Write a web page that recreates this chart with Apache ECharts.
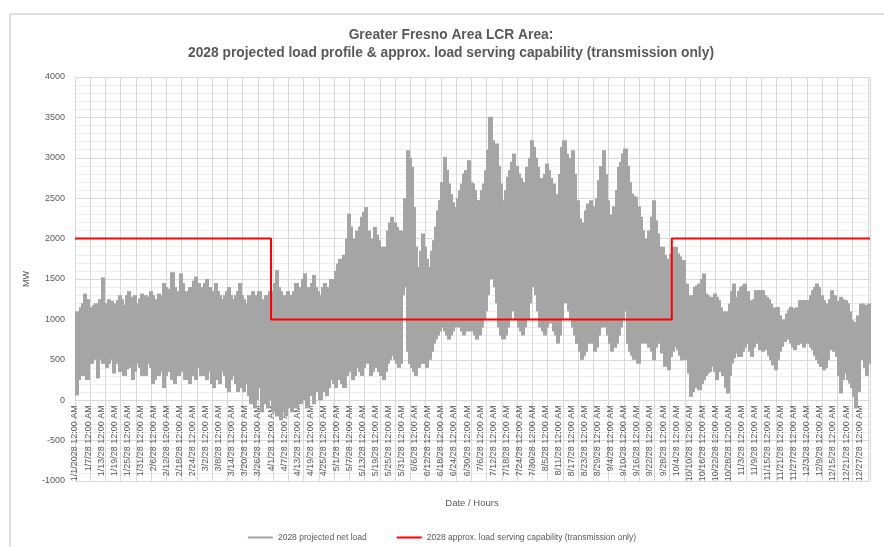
<!DOCTYPE html>
<html><head><meta charset="utf-8">
<script src="https://cdn.jsdelivr.net/npm/echarts@6/dist/echarts.min.js"></script>
<style>html,body{margin:0;padding:0;background:#fff}#c{width:884px;height:547px}</style>
</head><body><div id="c"></div>
<script>
// Tick labels (every 144 hours)
const tickDates = ['1/1/2028','1/7/28','1/13/28','1/19/28','1/25/28','1/31/28','2/6/28','2/12/28','2/18/28','2/24/28',
 '3/2/28','3/8/28','3/14/28','3/20/28','3/26/28','4/1/28','4/7/28','4/13/28','4/19/28','4/25/28',
 '5/1/28','5/7/28','5/13/28','5/19/28','5/25/28','5/31/28','6/6/28','6/12/28','6/18/28','6/24/28',
 '6/30/28','7/6/28','7/12/28','7/18/28','7/24/28','7/30/28','8/5/28','8/11/28','8/17/28','8/23/28',
 '8/29/28','9/4/28','9/10/28','9/16/28','9/22/28','9/28/28','10/4/28','10/10/28','10/16/28','10/22/28',
 '10/28/28','11/3/28','11/9/28','11/15/28','11/21/28','11/27/28','12/3/28','12/9/28','12/15/28','12/21/28','12/27/28'];
const tickTime = ' 12:00 AM';
const hoursPerLabel = 144;
const hoursPerGridLine = 168;
const totalHours = 8760;

// Daily peak of projected net load (MW), Jan..Dec
const dailyMax = [
 1100,1080,1150,1200,1320,1250,1150,1100,1180,1200,1150,1250,1520,1200,1180,1250,1230,1150,1200,1240,1300,1250,1180,1300,1350,1220,1280,1300,1200,1260,1320,
 1250,1300,1280,1350,1300,1200,1250,1320,1300,1450,1400,1350,1380,1585,1400,1350,1300,1570,1450,1350,1300,1400,1350,1480,1530,1450,1400,1350,
 1450,1500,1400,1350,1300,1450,1350,1300,1250,1300,1350,1400,1300,1250,1300,1350,1450,1300,1250,1200,1300,1250,1350,1200,1300,1350,1250,1200,1300,1250,1350,
 1350,1450,1610,1400,1350,1300,1250,1350,1300,1300,1350,1450,1400,1350,1500,1570,1400,1350,1450,1550,1400,1350,1300,1400,1450,1350,1400,1500,1450,1600,
 1690,1750,1650,1800,2000,2310,2150,1950,2000,2100,2150,2270,2330,2390,2100,1856,2000,2145,2050,1980,1900,1774,1900,2100,2200,2270,2200,2145,2100,2100,2063,
 2500,3094,3000,2888,2390,1900,1650,1850,2063,1900,1750,1650,1850,1980,2150,2350,2475,2700,3011,2850,2682,2550,2450,2390,2500,2600,2682,2805,2850,2970,
 2700,2682,2600,2475,2475,2600,2682,2846,3100,3507,3218,3150,3177,2900,2682,2475,2600,2764,2850,2950,3053,2900,2805,2750,2700,2682,2888,3000,3218,3135,3000,
 2888,2750,2682,2800,2929,2850,2750,2682,2550,2475,2800,3135,3218,3050,2888,3000,3094,2800,2475,2250,2063,2200,2350,2434,2475,2400,2270,2500,2723,2900,3094,
 2800,2475,2300,2186,2400,2600,2888,2950,3053,3115,2900,2700,2558,2530,2516,2400,2270,2104,2000,1980,2100,2270,2475,2228,2063,1900,1898,1800,1750,1650,
 1815,1898,1898,1815,1780,1733,1733,1444,1300,1196,1300,1403,1420,1444,1500,1568,1320,1300,1279,1279,1320,1280,1238,1150,1100,1031,1100,1196,1350,1444,1279,
 1350,1403,1420,1444,1350,1238,1114,1250,1361,1361,1361,1361,1300,1279,1250,1196,1150,1114,1155,1050,928,1000,1073,1120,1155,1140,1114,1150,1238,1238,
 1238,1238,1238,1300,1361,1400,1444,1400,1300,1238,1200,1155,1250,1361,1300,1196,1230,1279,1250,1238,1200,1100,990,970,949,1050,1196,1196,1150,1180,1196
];
// Daily minimum of projected net load (MW), Jan..Dec
const dailyMin = [
 60,250,400,300,500,250,600,450,500,550,270,500,450,500,400,450,500,330,450,500,350,420,300,380,450,400,250,350,450,400,300,
 350,300,450,400,200,250,400,300,350,150,300,350,400,250,200,350,300,400,350,250,300,200,350,300,250,400,300,350,
 300,250,350,200,150,300,250,200,350,300,150,100,250,300,200,100,250,150,100,200,50,-50,100,-100,0,150,-150,-50,50,-100,0,
 -150,-100,-200,-50,-250,-150,-200,-100,-50,-150,0,-100,50,-50,100,0,-100,50,100,-50,100,150,0,200,100,50,150,250,200,150,
 250,300,200,150,300,400,350,250,300,400,350,300,400,500,450,300,350,450,400,350,300,250,350,450,500,550,500,450,400,450,1300,
 1400,600,450,400,350,300,400,450,500,450,400,500,600,700,750,800,850,900,850,800,750,800,850,900,950,900,850,800,850,900,
 850,900,800,750,800,900,1000,1100,1300,1500,1600,1400,1200,900,800,750,800,900,1000,1100,1200,1000,900,850,800,900,1000,1200,1400,1550,1300,
 1100,900,850,800,900,1000,950,850,800,700,800,1000,1200,1300,1100,1000,900,800,700,600,500,550,600,700,750,700,600,650,800,900,1000,
 900,800,700,600,650,700,800,900,1000,1100,700,600,550,500,550,450,700,743,701,784,650,600,495,650,825,700,578,413,450,371,
 536,600,660,619,550,495,701,500,330,41,100,165,150,124,200,248,300,330,350,413,350,248,350,495,300,150,83,300,454,520,578,
 536,536,600,650,701,600,536,650,784,700,619,600,660,620,550,495,430,371,500,600,660,720,784,750,701,650,619,680,743,700,
 650,743,700,650,619,550,500,450,413,371,400,500,620,660,600,536,300,83,250,330,250,206,150,41,-100,100,536,500,400,300,450
];
// Approx. load serving capability (transmission only)
const capStartDay = [0, 90, 274];
const capValues = [2000, 1000, 2000];

const loadName = '2028 projected net load';
const capName = '2028 approx. load serving capability (transmission only)';

const loadData = dailyMax.map((mx, d) => [d * 24, d * 24 + 24, dailyMin[d], mx]);
const capData = capStartDay.map((d, i) => [d * 24, capValues[i]]);
capData.push([totalHours, capValues[capValues.length - 1]]);

const txt = '#595959';
const font = 'Liberation Sans, Arial, sans-serif';
const grey = '#A5A5A5';
const chart = echarts.init(document.getElementById('c'), null, {renderer: 'canvas'});
chart.setOption({
  animation: false,
  backgroundColor: '#fff',
  textStyle: {fontFamily: font},
  title: {
    text: 'Greater Fresno Area LCR Area:\n2028 projected load profile & approx. load serving capability (transmission only)',
    left: 446, top: 21, textAlign: 'center',
    textStyle: {fontSize: 13.8, fontWeight: 'bold', color: txt, lineHeight: 18, fontFamily: font}
  },
  grid: {left: 75, right: 14, top: 77, bottom: 66, containLabel: false, outerBoundsMode: 'none'},
  legend: {
    bottom: 0, left: 'center', icon: 'rect', itemWidth: 25, itemHeight: 2, itemGap: 30,
    textStyle: {fontSize: 8.5, color: txt, fontFamily: font},
    data: [loadName, capName]
  },
  graphic: [
    {type: 'rect', shape: {x: 10, y: 14, width: 900, height: 600}, style: {fill: 'none', stroke: '#BFBFBF', lineWidth: 1}, silent: true, z: -10},
    {type: 'text', x: 472, y: 498, style: {text: 'Date / Hours', fontSize: 9.5, fill: txt, textAlign: 'center', font: '9.5px ' + font}}
  ],
  xAxis: [
    {
      type: 'value', min: 0, max: totalHours, interval: hoursPerLabel, position: 'bottom', offset: -80.8,
      axisLine: {show: true, onZero: false, lineStyle: {color: '#D9D9D9'}},
      axisTick: {show: false}, splitLine: {show: false},
      axisLabel: {
        rotate: 90, fontSize: 9, color: txt, margin: 5, fontFamily: font, showMaxLabel: true,
        formatter: function (v) {
          const k = Math.round(v / hoursPerLabel);
          if (Math.abs(v - k * hoursPerLabel) > 1e-6 || k >= tickDates.length) return '';
          return tickDates[k] + tickTime;
        }
      }
    },
    {
      type: 'value', min: 0, max: totalHours, interval: hoursPerGridLine, position: 'top',
      axisLine: {show: false, onZero: false}, axisTick: {show: false}, axisLabel: {show: false},
      splitLine: {show: true, lineStyle: {color: '#D9D9D9', width: 1}}
    }
  ],
  yAxis: {
    type: 'value', min: -1000, max: 4000, interval: 500,
    axisLine: {show: false, onZero: false}, axisTick: {show: false},
    axisLabel: {fontSize: 9, color: txt, margin: 10, fontFamily: font, formatter: v => String(v)},
    splitLine: {lineStyle: {color: '#D9D9D9', width: 1}},
    minorTick: {show: false, splitNumber: 5},
    minorSplitLine: {show: true, lineStyle: {color: '#EDEDED', width: 1}},
    name: 'MW', nameLocation: 'middle', nameGap: 32, nameRotate: 90,
    nameTextStyle: {fontSize: 9, color: txt, fontFamily: font}
  },
  series: [
    {
      name: loadName, type: 'custom', xAxisIndex: 0, data: loadData,
      encode: {x: [0, 1], y: [2, 3]}, itemStyle: {color: grey}, z: 2,
      renderItem: function (params, api) {
        const p0 = api.coord([api.value(0), api.value(2)]);
        const p1 = api.coord([api.value(1), api.value(3)]);
        return {type: 'rect', shape: {x: Math.floor(p0[0]), y: p1[1], width: Math.ceil(p1[0]) - Math.floor(p0[0]) + 1, height: p0[1] - p1[1]},
                style: {fill: grey, stroke: null}};
      }
    },
    {
      name: capName, type: 'line', xAxisIndex: 0, data: capData, symbol: 'none', step: 'end',
      lineStyle: {color: '#FF0000', width: 2}, itemStyle: {color: '#FF0000'}, z: 3
    }
  ]
});
</script></body></html>
